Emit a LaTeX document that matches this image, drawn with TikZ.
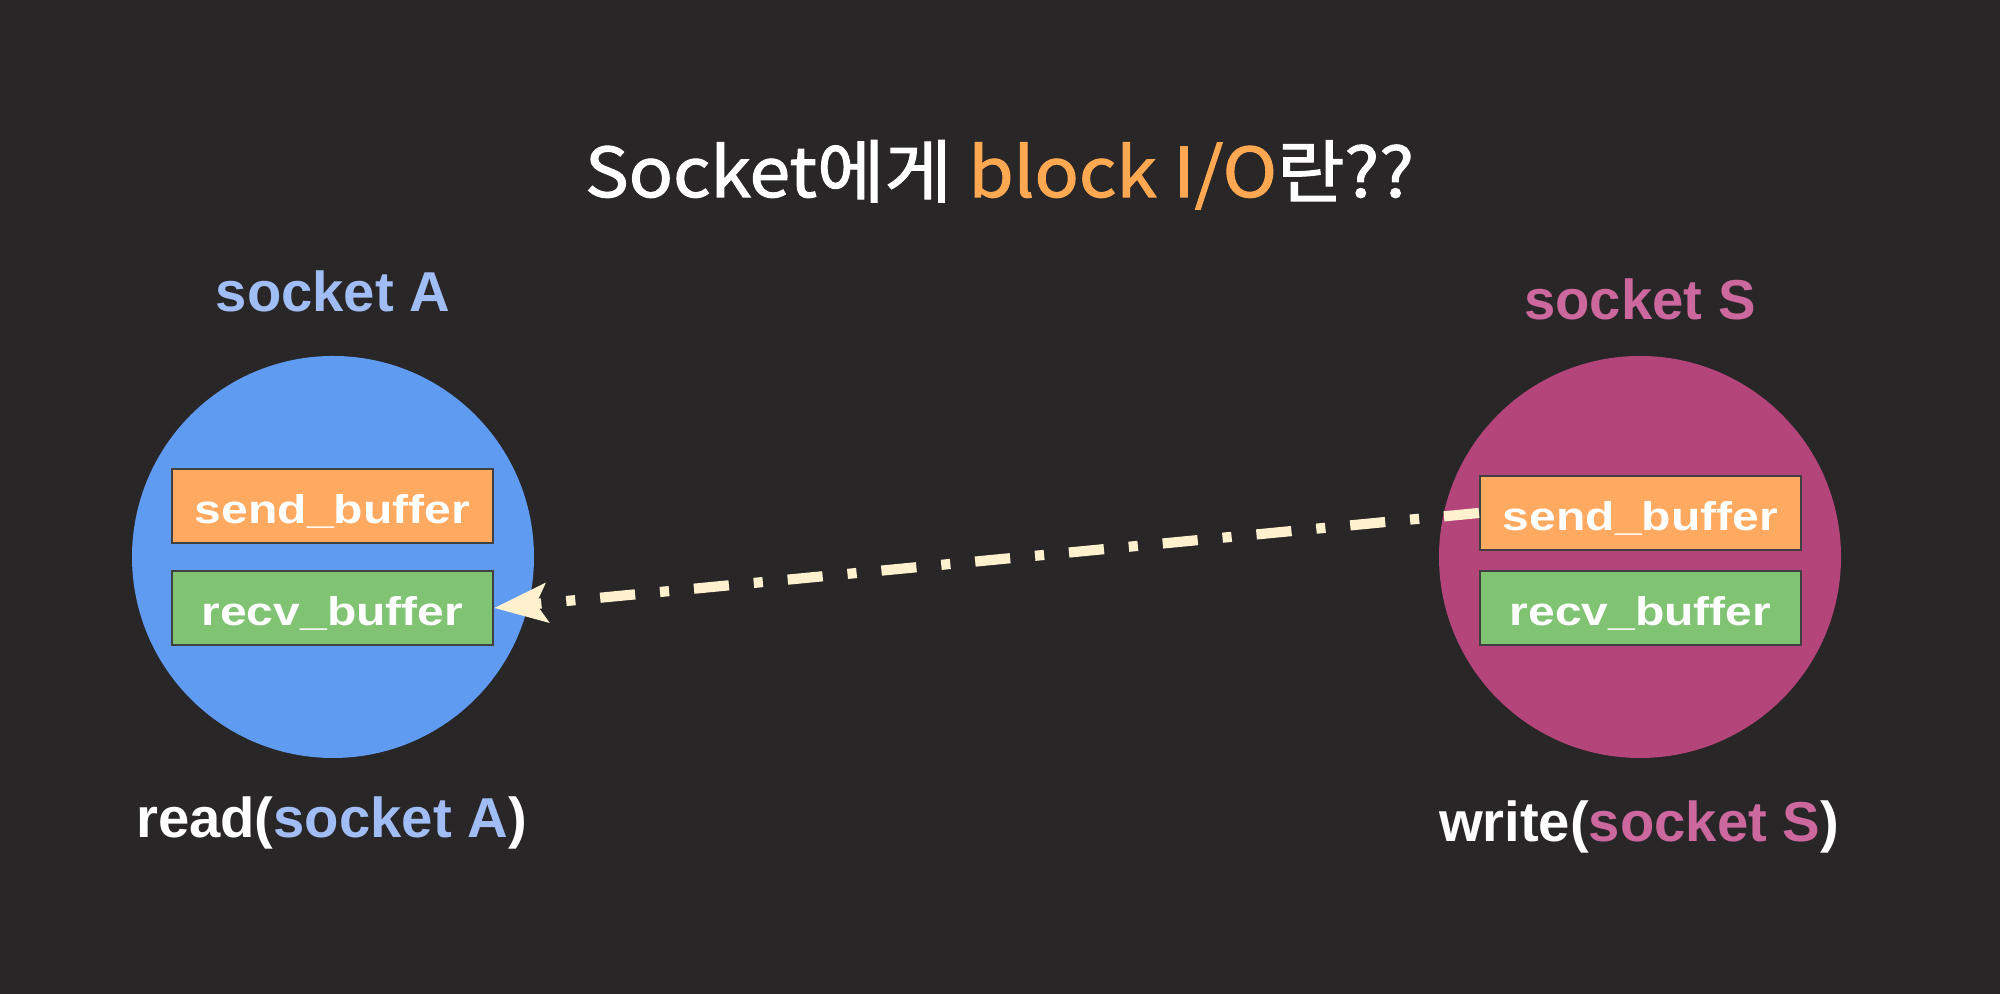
\documentclass[tikz,border=0pt]{standalone}
\usepackage{xcolor}
\usepackage{fontspec}
\usepackage{tikz}
\usetikzlibrary{arrows.meta}
\usetikzlibrary{positioning}
\setmainfont{Liberation Sans}
\newfontfamily\titlefont[FakeStretch=1.07, FakeBold=1.6]{Noto Sans CJK KR}
\newfontfamily\buffont[FakeStretch=1.2]{Liberation Sans}
\definecolor{bg}{RGB}{41,38,40}
\definecolor{blueA}{RGB}{96,155,242}
\definecolor{lblA}{RGB}{160,189,245}
\definecolor{pinkS}{RGB}{180,69,122}
\definecolor{lblS}{RGB}{204,104,158}
\definecolor{sendc}{RGB}{255,170,96}
\definecolor{recvc}{RGB}{128,196,115}
\definecolor{hl}{RGB}{255,168,82}
\definecolor{cream}{RGB}{255,240,206}
\tikzstyle{sock} = [circle, minimum size=4.02cm, inner sep=0]
\tikzstyle{buf} = [rectangle, draw=black!75, line width=0.6pt, minimum width=3.21cm, minimum height=0.74cm, inner sep=0, text height=10pt, text depth=0pt, text=white, font=\buffont\fontsize{11.4}{13}\selectfont\bfseries]
\tikzstyle{lbl} = [anchor=base, font=\fontsize{16}{19}\selectfont\bfseries]

\begin{document}
\begin{tikzpicture}
\fill [bg] (0,0) rectangle (20,9.94);
\useasboundingbox (0,0) rectangle (20,9.94);
\node [anchor=base, text=white, font=\titlefont\fontsize{19.5}{23}\selectfont] (T) at (9.995, 7.97) {Socket에게 \textcolor{hl}{block I/O}란??};
% the two sockets
\node [sock, fill=blueA] (A) at (3.33, 4.37) {};
\node [sock, fill=pinkS] (S) at (16.40, 4.37) {};
\node [lbl, text=lblA] (LA) at (3.33, 6.82) {socket A};
\node [lbl, text=lblS] (LS) at (16.40, 6.74) {socket S};
\node [buf, fill=sendc] (SA) at (3.325, 4.88) {send\_buffer};
\node [buf, fill=recvc] (RA) at (3.325, 3.86) {recv\_buffer};
\node [buf, fill=sendc] (SS) at (16.405, 4.81) {send\_buffer};
\node [buf, fill=recvc] (RS) at (16.405, 3.86) {recv\_buffer};
\node [lbl, text=white] (CA) at (3.315, 1.56) {read(\textcolor{lblA}{socket A})};
\node [lbl, text=white] (CS) at (16.39, 1.52) {write(\textcolor{lblS}{socket S})};
\draw [-{Stealth[length=15pt, width=11pt, inset=3pt]}, draw=cream, line width=2.9pt, dash pattern=on 10pt off 7.1pt on 2.6pt off 7.1pt] (SS.west) to (RA.east);
\end{tikzpicture}
\end{document}
